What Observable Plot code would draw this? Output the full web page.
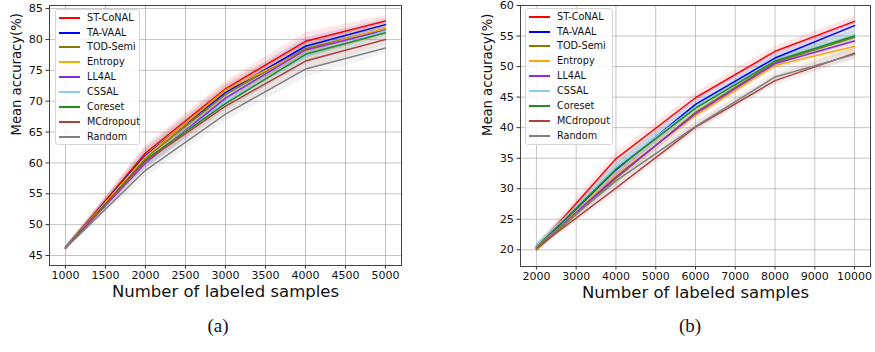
<!DOCTYPE html>
<html>
<head>
<meta charset="utf-8">
<script src="https://cdn.jsdelivr.net/npm/d3@7"></script>
<script src="https://cdn.jsdelivr.net/npm/@observablehq/plot@0.6"></script>
<style>
  html, body { margin: 0; padding: 0; background: #fff; }
  #fig { position: relative; width: 875px; height: 352px; overflow: hidden; font-family: "DejaVu Sans", sans-serif; }
  .panel { position: absolute; top: 0; }
  .legend { position: absolute; box-sizing: border-box; border: 1px solid #d6d6d6; border-radius: 3px; background: rgba(255,255,255,0.85); }
  .legend .row { position: absolute; left: 0; height: 14px; font-size: 9.7px; line-height: 14px; color: #111; white-space: nowrap; }
  .legend .sw { position: absolute; height: 2px; top: 6px; }
  .legend .lb { position: absolute; }
  .cap { position: absolute; font-family: "Liberation Serif", "DejaVu Serif", serif; font-size: 19px; color: #111; transform: translate(-50%, -50%); }
</style>
</head>
<body>
<div id="fig"></div>
<script>
// ---------- data ----------
const seriesNames = ["ST-CoNAL", "TA-VAAL", "TOD-Semi", "Entropy", "LL4AL", "CSSAL", "Coreset", "MCdropout", "Random"];
const seriesColors = ["#ff0000", "#0000ff", "#808000", "#ffa500", "#8a2be2", "#87ceeb", "#228b22", "#b04040", "#808080"];

// (a)
const xA = [1000, 2000, 3000, 4000, 5000];
const xTicksA = [1000, 1500, 2000, 2500, 3000, 3500, 4000, 4500, 5000];
const yTicksA = [45, 50, 55, 60, 65, 70, 75, 80, 85];
const stdA = [0.3, 1.2, 1.2, 1.4, 0.9];
const stConalA   = [46.2, 61.6, 72.0, 79.7, 83.0];
const taVaalA    = [46.2, 61.2, 71.4, 78.9, 82.4];
const todSemiA   = [46.2, 60.8, 71.1, 78.5, 81.7];
const entropyA   = [46.2, 61.0, 71.8, 78.2, 81.8];
const ll4alA     = [46.2, 60.0, 70.5, 78.3, 81.5];
const cssalA     = [46.2, 60.3, 69.9, 77.3, 81.4];
const coresetA   = [46.2, 60.5, 69.6, 77.6, 81.1];
const mcdropoutA = [46.2, 60.3, 69.2, 76.5, 80.0];
const randomA    = [46.2, 58.8, 67.9, 75.2, 78.6];

// (b)
const xB = [2000, 4000, 6000, 8000, 10000];
const xTicksB = [2000, 3000, 4000, 5000, 6000, 7000, 8000, 9000, 10000];
const yTicksB = [20, 25, 30, 35, 40, 45, 50, 55, 60];
const stdB = [0.5, 1.0, 0.8, 0.8, 0.9];
const stConalB   = [20.3, 34.9, 44.9, 52.5, 57.4];
const taVaalB    = [20.3, 33.1, 43.8, 51.4, 56.7];
const todSemiB   = [20.0, 31.7, 42.5, 50.7, 54.8];
const entropyB   = [20.2, 32.2, 42.0, 50.2, 53.3];
const ll4alB     = [20.3, 31.9, 42.3, 50.5, 54.2];
const cssalB     = [20.7, 33.5, 43.4, 51.0, 55.2];
const coresetB   = [20.4, 33.2, 43.2, 50.9, 55.0];
const mcdropoutB = [20.3, 30.1, 40.1, 47.7, 52.2];
const randomB    = [20.5, 31.3, 40.2, 48.3, 52.0];

const valuesA = [stConalA, taVaalA, todSemiA, entropyA, ll4alA, cssalA, coresetA, mcdropoutA, randomA];
const valuesB = [stConalB, taVaalB, todSemiB, entropyB, ll4alB, cssalB, coresetB, mcdropoutB, randomB];

function rows(xs, vals, std) {
  const out = [];
  vals.forEach((arr, si) => arr.forEach((v, i) => out.push({
    series: seriesNames[si], order: si, x: xs[i], y: v, lo: v - std[i], hi: v + std[i]
  })));
  return out;
}

function panel({data, xDomain, yDomain, xTicks, yTicks, width, marginLeft, marginRight, marginBottom, height}) {
  const colorScale = {domain: seriesNames, range: seriesColors};
  const fmt = d => String(d);
  return Plot.plot({
    width, height, marginLeft, marginRight, marginTop: 5, marginBottom,
    style: {fontFamily: "DejaVu Sans, sans-serif", fontSize: "11px", background: "transparent", overflow: "visible"},
    x: {domain: xDomain, ticks: xTicks, label: null, tickFormat: fmt},
    y: {domain: yDomain, ticks: yTicks, label: null, tickFormat: fmt},
    color: colorScale,
    marks: [
      Plot.gridX(xTicks, {stroke: "#b0b0b0", strokeOpacity: 0.75, strokeWidth: 1}),
      Plot.gridY(yTicks, {stroke: "#b0b0b0", strokeOpacity: 0.75, strokeWidth: 1}),
      Plot.areaY(data, {x: "x", y1: "lo", y2: "hi", z: "series", fill: "series", fillOpacity: 0.1}),
      ...seriesNames.map(name => Plot.line(data.filter(d => d.series === name), {x: "x", y: "y", stroke: "series", strokeWidth: 1.5})),
      Plot.axisX(xTicks, {tickSize: 3.5, tickPadding: 2.5, fontSize: 11, label: null, tickFormat: fmt, stroke: "#333", fill: "#111"}),
      Plot.axisY(yTicks, {tickSize: 3.5, tickPadding: 3, fontSize: 11.2, label: null, tickFormat: fmt, stroke: "#333", fill: "#111"}),
      Plot.frame({stroke: "#444", strokeWidth: 1}),
      Plot.text(["Number of labeled samples"], {frameAnchor: "bottom", dy: 31, fontSize: 16.5, fill: "#111"}),
      Plot.text(["Mean accuracy(%)"], {frameAnchor: "left", dx: -33, rotate: -90, fontSize: 13.2, fill: "#111"})
    ]
  });
}

const fig = document.getElementById("fig");

const svgA = panel({
  data: rows(xA, valuesA, stdA), xDomain: [800, 5200], yDomain: [43.38, 85.5],
  xTicks: xTicksA, yTicks: yTicksA, width: 437, height: 310, marginLeft: 49, marginRight: 36, marginBottom: 45
});
const wrapA = document.createElement("div");
wrapA.className = "panel"; wrapA.style.left = "0px";
wrapA.appendChild(svgA); fig.appendChild(wrapA);

const svgB = panel({
  data: rows(xB, valuesB, stdB), xDomain: [1600, 10400], yDomain: [17.27, 60.0],
  xTicks: xTicksB, yTicks: yTicksB, width: 438, height: 310, marginLeft: 83, marginRight: 5, marginBottom: 44
});
const wrapB = document.createElement("div");
wrapB.className = "panel"; wrapB.style.left = "437px";
wrapB.appendChild(svgB); fig.appendChild(wrapB);

function legend(left, top, w, h, swLeft, swWidth, textLeft) {
  const box = document.createElement("div");
  box.className = "legend";
  Object.assign(box.style, {left: left + "px", top: top + "px", width: w + "px", height: h + "px"});
  seriesNames.forEach((name, i) => {
    const row = document.createElement("div");
    row.className = "row";
    row.style.top = (7.7 - 7 + 14.87 * i) + "px";
    row.style.width = w + "px";
    const sw = document.createElement("div");
    sw.className = "sw";
    Object.assign(sw.style, {left: swLeft + "px", width: swWidth + "px", background: seriesColors[i]});
    const lb = document.createElement("div");
    lb.className = "lb"; lb.style.left = textLeft + "px"; lb.textContent = name;
    row.appendChild(sw); row.appendChild(lb); box.appendChild(row);
  });
  fig.appendChild(box);
}
legend(55, 9, 85, 136, 3, 21, 31);
legend(525, 8, 88, 137, 3, 21, 31);

function caption(text, x, y) {
  const d = document.createElement("div");
  d.className = "cap"; d.textContent = text;
  d.style.left = x + "px"; d.style.top = y + "px";
  fig.appendChild(d);
}
caption("(a)", 218, 326);
caption("(b)", 690, 326);
</script>
</body>
</html>
